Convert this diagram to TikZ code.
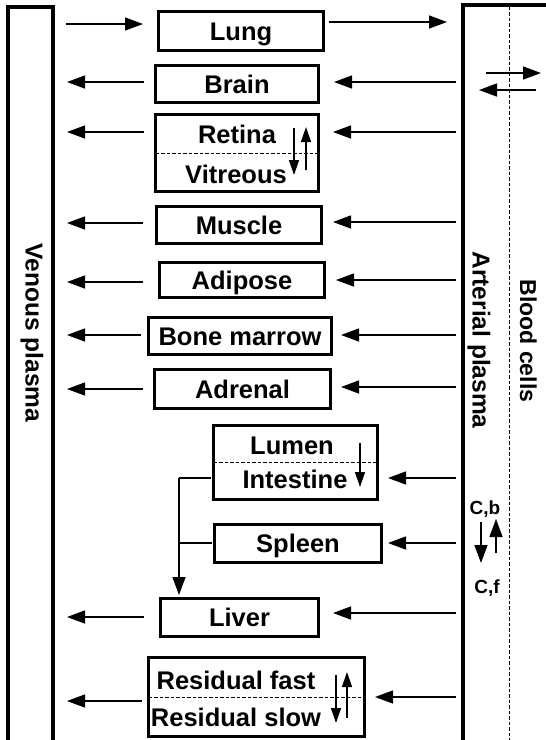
\documentclass[tikz,border=0pt]{standalone}
\usepackage{fontspec}
\setmainfont{Liberation Sans}
\usetikzlibrary{arrows.meta}
\begin{document}
\begin{tikzpicture}[x=1pt,y=-1pt,
  organ/.style={draw, line width=3.4pt, inner sep=0pt, text height=18pt, text depth=0pt,
    font=\bfseries\fontsize{25.5}{29}\selectfont},
  lbl/.style={inner sep=0pt, text height=18pt, text depth=0pt, font=\bfseries\fontsize{25.5}{29}\selectfont},
  vlbl/.style={inner sep=0pt, text height=17pt, text depth=0pt, rotate=-90, font=\bfseries\fontsize{24.5}{28}\selectfont},
  slbl/.style={inner sep=0pt, text height=14pt, text depth=0pt, font=\bfseries\fontsize{19}{22}\selectfont},
  arr/.style={line width=1.4pt, -{Triangle[length=18pt,width=13pt]}},
  sarr/.style={line width=1.4pt, -{Triangle[length=15pt,width=10pt]}},
  sep/.style={line width=1pt, dash pattern=on 3.5pt off 2pt},
  wall/.style={line width=3.4pt},
  conn/.style={line width=1.4pt}]
\useasboundingbox (0,0) rectangle (546,740);
% compartments
\draw[wall] (8,745) -- (8,7) -- (53,7) -- (53,745);
\draw[wall] (463,745) -- (463,5) -- (550,5);
\draw[sep] (509,6.5) -- (509,745);
\node[vlbl] (ven) at (34,333) {Venous plasma};
\node[vlbl] (art) at (481,340) {Arterial plasma};
\node[vlbl, font=\bfseries\fontsize{23}{27}\selectfont] (bc) at (528.5,341) {Blood cells};
% organs
\node[organ, minimum width=165pt, minimum height=39pt] (lung) at (241,31) {Lung};
\node[organ, minimum width=163pt, minimum height=37pt] (brain) at (237,84) {Brain};
\node[organ, minimum width=163pt, minimum height=77pt] (retina) at (237,153) {};
\node[lbl] (ret) at (237,134) {Retina};
\node[lbl] (vit) at (236,174) {Vitreous};
\draw[sep] (155.5,153) -- (318.5,153);
\node[organ, minimum width=165pt, minimum height=37pt] (muscle) at (239,225) {Muscle};
\node[organ, minimum width=165pt, minimum height=35pt] (adipose) at (242,280) {Adipose};
\node[organ, minimum width=183pt, minimum height=37pt] (bone) at (240,336) {Bone marrow};
\node[organ, minimum width=176pt, minimum height=39pt] (adrenal) at (242.5,389) {Adrenal};
\node[organ, minimum width=164pt, minimum height=74pt] (intestine) at (295.5,462.5) {};
\node[lbl] (lumen) at (292,445) {Lumen};
\node[lbl] (intl) at (295,479) {Intestine};
\draw[sep] (213.5,462) -- (377.5,462);
\node[organ, minimum width=167pt, minimum height=38pt] (spleen) at (298,543.5) {Spleen};
\node[organ, minimum width=158pt, minimum height=38pt] (liver) at (239.5,617.5) {Liver};
\node[organ, minimum width=216pt, minimum height=79pt] (resid) at (256.5,697) {};
\node[lbl] (rf) at (236,680) {Residual fast};
\node[lbl] (rs) at (236,717) {Residual slow};
\draw[sep] (148.5,697) -- (364.5,697);
% lung
\draw[arr] (66,24) -- (143,24);
\draw[arr] (329,22) -- (447,22);
% outflows to venous
\foreach \y/\x in {82/144, 132/144, 223/143, 282/143, 335/141, 389/143, 617/144, 701/142}
  \draw[arr] (\x,\y) -- (67,\y);
% inflows from arterial
\foreach \y/\x in {82/334, 132/333, 222/333, 280/336, 335/341, 387/341, 478/388, 543/388, 613/333, 697/375}
  \draw[arr] (456,\y) -- (\x,\y);
% blood cell exchange
\draw[arr] (486,73) -- (541,73);
\draw[arr] (536,90) -- (479,90);
% internal exchanges
\draw[sarr] (294,128) -- (294,175);
\draw[sarr] (306,170) -- (306,127);
\draw[sarr] (360,443) -- (360,487);
\draw[sarr] (336,675) -- (336,723);
\draw[sarr] (347,718) -- (347,672);
% C,b / C,f
\node[slbl] (cb) at (485,507) {C,b};
\node[slbl] (cf) at (487,586) {C,f};
\draw[arr] (481,522) -- (481,563);
\draw[arr] (496,553) -- (496,519);
% portal flow
\coordinate (pj) at (179,478);
\coordinate (ps) at (179,543);
\draw[conn] (210.5,478) -- (pj);
\draw[conn] (211.5,543) -- (ps);
\draw[arr] (pj) -- (179,595);
\end{tikzpicture}
\end{document}
